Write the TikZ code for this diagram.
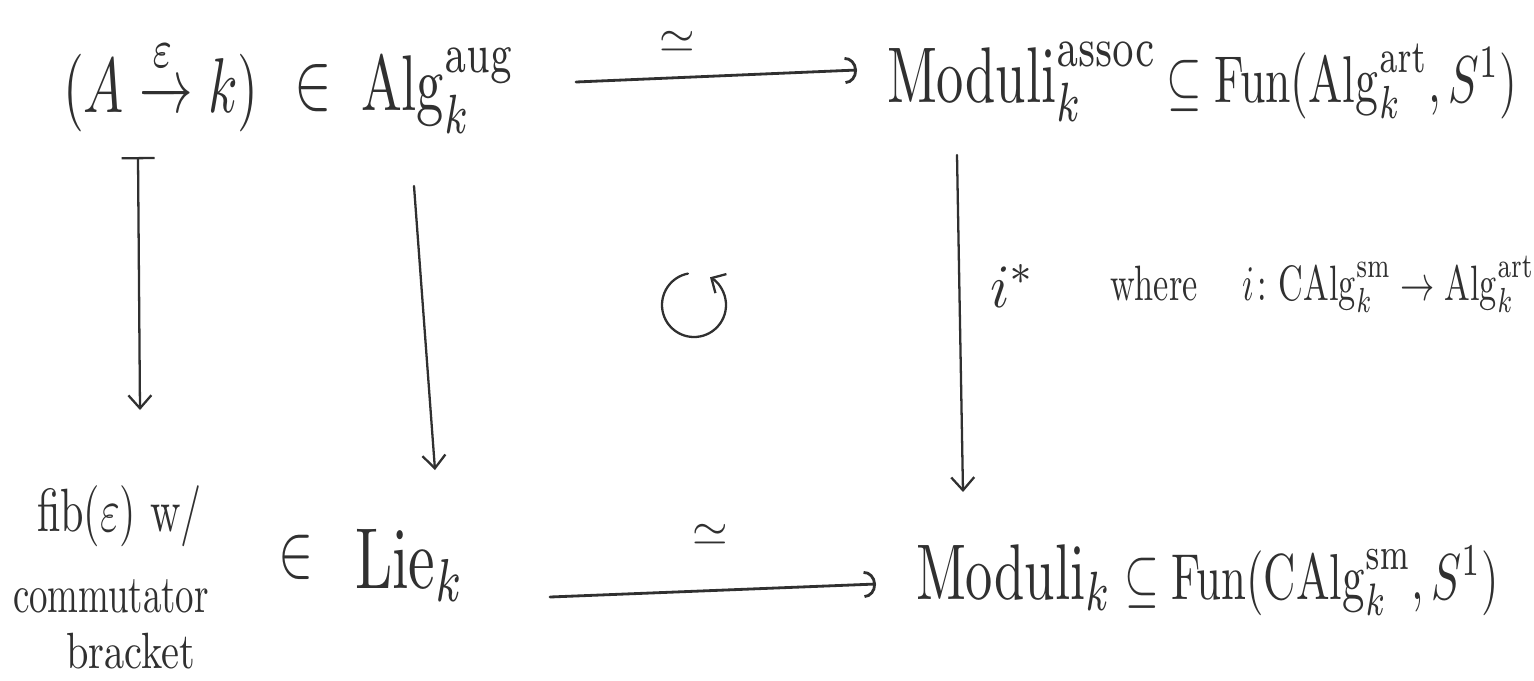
\documentclass[tikz,border=0pt]{standalone}
\usepackage{amsmath,amssymb}
\usepackage{graphicx}
\usetikzlibrary{arrows.meta}
\definecolor{ink}{HTML}{303030}
\newcommand{\hwtext}[2]{\pgfmathsetmacro\hwv{#1*1.45}\scalebox{#1}[\hwv]{#2}}
\newcommand{\hwxy}[3]{\scalebox{#1}[#2]{#3}}
\tikzset{
  hw/.style={inner sep=0pt, outer sep=0pt, text=ink, anchor=base west},
  varr/.style={draw=ink, line width=1.3pt, line cap=round,
    -{Straight Barb[length=2.6mm,width=4.6mm]}},
  harr/.style={draw=ink, line width=1.6pt, line cap=round,
    -{Arc Barb[length=2.4mm,width=5.4mm]}},
  mapsarr/.style={draw=ink, line width=1.3pt, line cap=round,
    {Bar[width=6.6mm]}-{Straight Barb[length=2.6mm,width=4.6mm]}},
  looparr/.style={draw=ink, line width=1.3pt, line cap=round,
    -{Straight Barb[length=2.2mm,width=4.4mm]}}
}
\begin{document}
\begin{tikzpicture}[x=0.02cm,y=-0.02cm]
\useasboundingbox (0,0) rectangle (1534,680);
% top row
\node[hw] (pair) at (63,112) {\hwtext{3.05}{$(A \xrightarrow{\varepsilon} k)$}};
\node[hw,anchor=center] (in1) at (313,88) {\hwtext{3.2}{$\in$}};
\node[hw] (alg) at (361,110) {\hwtext{3.1}{$\mathrm{Alg}^{\mathrm{aug}}_{k}$}};
\node[hw] (mtr) at (887,102) {\hwtext{3.1}{$\mathrm{Moduli}^{\mathrm{assoc}}_{k}$}};
\node[hw] (ftr) at (1166,102) {\hwtext{2.6}{$\subseteq \mathrm{Fun}(\mathrm{Alg}^{\mathrm{art}}_{k}, S^1)$}};
% bottom row
\node[hw,anchor=center] (in2) at (296,557) {\hwtext{3.0}{$\in$}};
\node[hw] (lie) at (355,588) {\hwtext{3.4}{$\mathrm{Lie}_{k}$}};
\node[hw] (mbr) at (916,599) {\hwtext{3.1}{$\mathrm{Moduli}_{k}$}};
\node[hw] (fbr) at (1124,599) {\hwtext{2.55}{$\subseteq \mathrm{Fun}(\mathrm{CAlg}^{\mathrm{sm}}_{k}, S^1)$}};
% left annotation
\node[hw] (fib1) at (37,531) {\hwtext{2.4}{fib$(\varepsilon)$ w/}};
\node[hw] (fib2) at (13,612) {\hwtext{2.1}{commutator}};
\node[hw] (fib3) at (66,668) {\hwxy{2.3}{2.9}{bracket}};
% right annotation
\node[hw] (istar) at (990,307) {\hwxy{3.2}{3.5}{$i^{*}$}};
\node[hw] (where) at (1110,300) {\hwtext{1.95}{where\hspace{13pt}$i\colon \mathrm{CAlg}^{\mathrm{sm}}_{k} \to \mathrm{Alg}^{\mathrm{art}}_{k}$}};
% iso labels
\node[hw,anchor=center] (iso1) at (677,42) {\hwxy{2.6}{2.6}{$\simeq$}};
\node[hw,anchor=center] (iso2) at (710,535) {\hwxy{2.6}{2.6}{$\simeq$}};
% arrow end points
\coordinate (topS) at (576,82);
\coordinate (topE) at (857,70);
\coordinate (botS) at (550,597);
\coordinate (botE) at (876,584);
\coordinate (lS) at (138,157);
\coordinate (lE) at (140,410);
\coordinate (mS) at (414,186);
\coordinate (mE) at (435,470);
\coordinate (rS) at (957,155);
\coordinate (rE) at (963,492);
\coordinate (loopc) at (694,305);
% arrows
\draw[harr] (topS) -- (topE);
\draw[harr] (botS) -- (botE);
\draw[mapsarr] (lS) -- (lE);
\draw[varr] (mS) -- (mE);
\draw[varr] (rS) -- (rE);
\draw[looparr] (loopc) ++(-101:32) arc[start angle=-101, end angle=-420, radius=32];
\end{tikzpicture}
\end{document}
